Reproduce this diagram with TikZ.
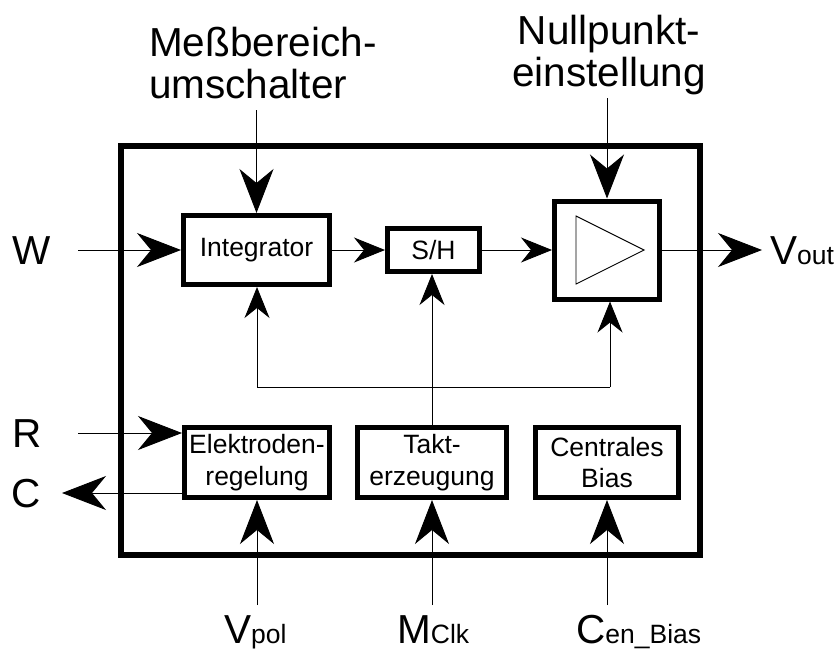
\documentclass[tikz,border=0pt]{standalone}
\usepackage{fontspec}
\setmainfont{Liberation Sans}
\usetikzlibrary{arrows.meta}
\newcommand\bigsz{\fontsize{40.5}{42}\selectfont}
\newcommand\smsz{\fontsize{26.5}{31.5}\selectfont}
\begin{document}
\begin{tikzpicture}[x=1pt,y=-1pt,
  lbl/.style={font=\bigsz, inner sep=0pt},
  blk/.style={draw, line width=5pt, inner sep=0pt, align=center, font=\smsz},
  wire/.style={line width=0.9pt},
  bigtip/.style={-{Stealth[length=44pt,width=34pt,inset=14pt]}},
  smalltip/.style={-{Stealth[length=31pt,width=25pt,inset=10pt]}},
]
\useasboundingbox (0,0) rectangle (840,654);

% outer frame of the chip
\draw[line width=6pt] (121,145.5) rectangle (700,555);

% function blocks
\node[blk, minimum width=146pt, minimum height=69pt] (integ) at (256.5,250) {Integrator};
\node[blk, minimum width=92pt,  minimum height=43pt] (sh)    at (433.5,250) {S/H};
\node[blk, minimum width=105pt, minimum height=98pt] (amp)   at (607,250)   {};
\draw[wire] ([xshift=-31pt,yshift=-34pt]amp.center) -- ([xshift=-31pt,yshift=34pt]amp.center)
            -- ([xshift=37pt]amp.center) -- cycle;

\node[blk, minimum width=145pt, minimum height=70pt] (elek)  at (257,462.5) {Elektroden-\\regelung};
\node[blk, minimum width=149pt, minimum height=70pt] (takt)  at (432,462.5) {Takt-\\erzeugung};
\node[blk, minimum width=143pt, minimum height=70pt] (bias)  at (607,462.5) {Centrales\\Bias};

% external terminals
\coordinate (wIn)  at (78,250);
\coordinate (rIn)  at (78,433);
\coordinate (cOut) at (62,493);
\coordinate (mIn)  at (256.5,110);
\coordinate (nIn)  at (607,98);
\coordinate (vOut) at (762,250);
\coordinate (vpIn) at (257,605);
\coordinate (mcIn) at (432,605);
\coordinate (cbIn) at (607,605);

% signal path
\draw[wire,bigtip] (wIn) -- (integ.west);
\draw[wire,smalltip] (integ.east) -- (sh.west);
\draw[wire,smalltip] (sh.east) -- (amp.west);
\draw[wire,bigtip] (amp.east) -- (vOut);

% control inputs from above
\draw[wire,bigtip] (mIn) -- (integ.north);
\draw[wire,bigtip] (nIn) -- (amp.north);

% electrode lines
\draw[wire,bigtip] (rIn) -- (elek.west |- rIn);
\draw[wire,bigtip] (elek.west |- cOut) -- (cOut);

% clock distribution
\coordinate (busL) at (257,387);
\coordinate (busR) at (610,387);
\draw[wire,smalltip] (takt.north) -- (takt.north |- sh.south);
\draw[wire] (busL) -- (busR);
\draw[wire,smalltip] (busL) -- (busL |- integ.south);
\draw[wire,smalltip] (busR) -- (busR |- amp.south);

% inputs from below
\draw[wire,bigtip] (vpIn) -- (elek.south);
\draw[wire,bigtip] (mcIn) -- (takt.south);
\draw[wire,bigtip] (cbIn) -- (bias.south);

% labels
\node[lbl, anchor=base] (wLab) at (31.5,264.3) {W};
\node[lbl, anchor=base] (rLab) at (27,447.3) {R};
\node[lbl, anchor=base] (cLab) at (26,507.3) {C};
\node[lbl, anchor=base west] (voLab) at (770,264.3) {V{\smsz out}};
\node[lbl, anchor=north west, align=left] (mLab) at (149,27) {Meßbereich-\\umschalter};
\node[lbl, anchor=north, align=center] (nLab) at (609,15) {Nullpunkt-\\einstellung};
\node[lbl, anchor=base west] (vpLab) at (224,643) {V{\smsz pol}};
\node[lbl, anchor=base west] (mcLab) at (397,643) {M{\smsz Clk}};
\node[lbl, anchor=base west] (cbLab) at (576,643) {C{\smsz en\_Bias}};
\end{tikzpicture}
\end{document}
